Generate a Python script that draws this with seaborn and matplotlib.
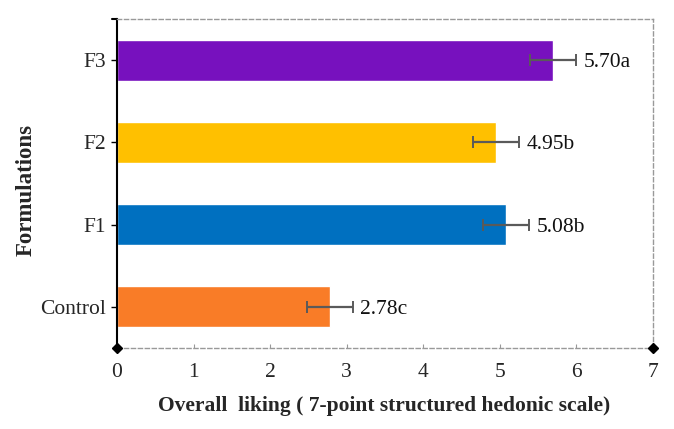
import matplotlib
matplotlib.use("Agg")
import matplotlib.pyplot as plt
import seaborn as sns
import pandas as pd

categories = ["F3", "F2", "F1", "Control"]
values = [5.70, 4.95, 5.08, 2.78]
errors = [0.30, 0.30, 0.30, 0.30]
letters = ["a", "b", "b", "c"]
colors = ["#7711BE", "#FFC000", "#0070C0", "#F97C27"]
xticks = [0, 1, 2, 3, 4, 5, 6, 7]

sns.set_theme(style="white")
plt.rcParams["font.family"] = ["Liberation Serif", "DejaVu Serif"]

df = pd.DataFrame({"Formulation": categories, "Liking": values})

fig = plt.figure(figsize=(6.74, 4.29), dpi=100)
ax = fig.add_axes([117 / 674, 1 - 348 / 429, (653 - 117) / 674, (348 - 19) / 429])

sns.barplot(data=df, y="Formulation", x="Liking", order=categories,
            hue="Formulation", palette=colors, legend=False,
            width=0.5, orient="h", ax=ax, errorbar=None, saturation=1)

ypos = list(range(len(categories)))
ax.errorbar(values, ypos, xerr=errors, fmt="none", ecolor="#5a5a5a",
            elinewidth=1.6, capsize=4, capthick=1.4, zorder=5)

for y, v, e, l in zip(ypos, values, errors, letters):
    ax.text(v + e + 0.1, y, f"{v:.2f}{l}", va="center_baseline", ha="left",
            fontsize=15.5, color="#111111")

ax.set_xlim(0, 7)
ax.set_ylim(3.5, -0.5)
ax.set_xticks(xticks)
ax.set_xticklabels([str(t) for t in xticks], fontsize=15.5)
ax.tick_params(axis="y", labelsize=15.5, length=4, width=1, color="black",
               left=True, pad=4)
ax.tick_params(axis="x", length=3, width=0.8, color="#999999", bottom=True,
               direction="in", pad=11)

for s in ["top", "right", "bottom"]:
    ax.spines[s].set_visible(True)
    ax.spines[s].set_color("#999999")
    ax.spines[s].set_linestyle((0, (3, 2)))
    ax.spines[s].set_linewidth(1.0)
ax.spines["left"].set_color("black")
ax.spines["left"].set_linewidth(1.5)

# cap at top of left axis and diamond ends of bottom axis
ax.plot([-0.06, 0], [-0.5, -0.5], color="black", lw=1.5, clip_on=False,
        transform=ax.transData)
ax.plot([0, 7], [3.5, 3.5], linestyle="none", marker="D", markersize=5,
        color="black", clip_on=False, zorder=10)

ax.set_xlabel("Overall  liking ( 7-point structured hedonic scale)",
              fontsize=15.5, fontweight="bold")
ax.set_ylabel("Formulations", fontsize=16.5, fontweight="bold")
ax.xaxis.set_label_coords((384 - 117) / 536, -(396 - 348) / 329)
ax.yaxis.set_label_coords(-(117 - 37) / 536, (348 - 190) / 329)

fig.savefig("out.png", dpi=100)
